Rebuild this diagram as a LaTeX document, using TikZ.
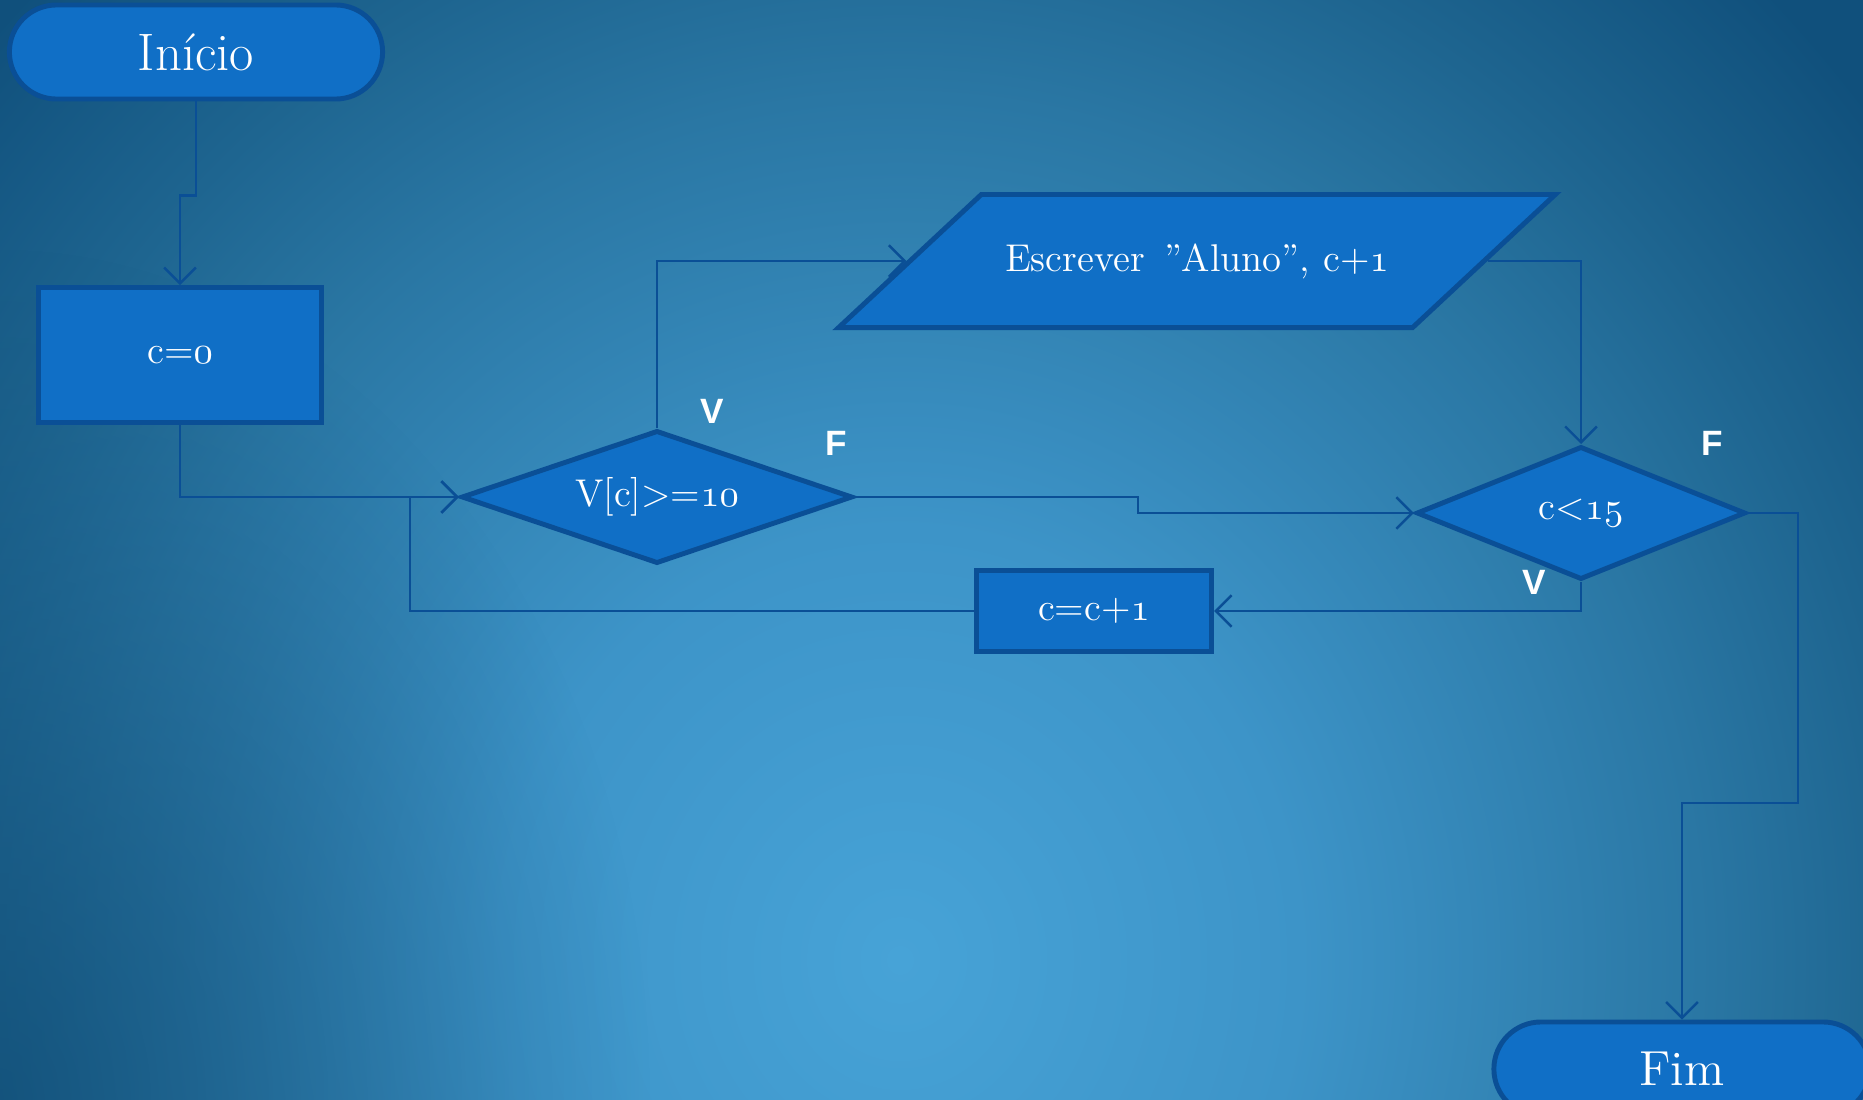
\documentclass[tikz,border=0pt]{standalone}
\usepackage{fontspec}
\newfontfamily\lblfont{Liberation Sans}
\usetikzlibrary{shapes.geometric,arrows.meta,calc,fadings}
\definecolor{nodefill}{HTML}{106FC6}
\definecolor{nodeline}{HTML}{0A4F96}
\definecolor{bgdark}{HTML}{10507C}
\definecolor{bgdeep}{HTML}{0C466E}
\definecolor{bgmiddark}{HTML}{1E6590}
\definecolor{bgmid}{HTML}{2A77A4}
\definecolor{bgmidlight}{HTML}{3D94C8}
\definecolor{bglight}{HTML}{47A3D7}
\pgfdeclareradialshading{bgshade}{\pgfpoint{0bp}{0bp}}{color(0bp)=(bglight); color(8bp)=(bgmidlight); color(16bp)=(bgmid); color(20bp)=(bgmiddark); color(25bp)=(bgdark); color(50bp)=(bgdark)}
\tikzfading[name=cornerfade, inner color=transparent!35, outer color=transparent!100]
\begin{document}
\begin{tikzpicture}[x=0.01cm,y=-0.01cm,
  box/.style={draw=nodeline,fill=nodefill,line width=1.4pt,text=white,inner sep=0pt},
  term/.style={box,rectangle,rounded corners=0.47cm,minimum width=3.73cm,minimum height=0.94cm,font=\fontsize{15}{18}\selectfont},
  proc/.style={box,rectangle,font=\fontsize{11}{13}\selectfont},
  dec/.style={box,diamond,font=\fontsize{11}{13}\selectfont},
  io/.style={box,trapezium,trapezium left angle=43,trapezium right angle=137,text width=4.31cm,align=center,text height=0.77cm,text depth=0.56cm,font=\fontsize{11}{13}\selectfont},
  conn/.style={draw=nodeline,line width=0.7pt},
  arr/.style={conn,-{Straight Barb[length=4.5pt,width=9pt]}},
  lbl/.style={text=white,font=\lblfont\bfseries\fontsize{10}{12}\selectfont}
]
\useasboundingbox (0,0) rectangle (1863,1100);
\begin{scope}
\clip (0,0) rectangle (1863,1100);
\fill[bgdark] (0,0) rectangle (1863,1100);
\shade[shading=bgshade] (900,960) ellipse (1250 and 1350);
\fill[bgdeep,path fading=cornerfade] (0,1100) ellipse (650 and 850);
\end{scope}

\node[term] (inicio) at (196,52) {Início};
\node[proc,minimum width=2.82cm,minimum height=1.35cm] (c0) at (180,355) {c=\(\mathnormal{0}\)};
\node[dec,shape aspect=2.9,minimum width=3.91cm,minimum height=1.33cm] (d1) at (657,497) {V[c]>=\(\mathnormal{10}\)};
\node[io] (para) at (1197,261) {Escrever\enspace ”Aluno”, c+\(\mathnormal{1}\)};
\node[dec,shape aspect=2.5,minimum width=3.29cm,minimum height=1.33cm] (d2) at (1581,513) {c<\(\mathnormal{15}\)};
\node[proc,minimum width=2.35cm,minimum height=0.81cm] (inc) at (1094,611) {c=c+\(\mathnormal{1}\)};
\node[term,minimum width=3.76cm,font=\fontsize{14}{17}\selectfont] (fim) at (1682,1069) {Fim};

\node[lbl] (v1) at (712,411) {V};
\node[lbl] (f1) at (836,443) {F};
\node[lbl] (f2) at (1712,443) {F};
\node[lbl] (v2) at (1534,582) {V};

\draw[arr] (inicio.south) -- ++(0,94) -| (c0.north);
\draw[arr] (c0.south) |- (d1.west);
\draw[arr] (d1.north) |- (para.left side);
\draw[arr] (para.right side) -| (d2.north);
\draw[arr] (d1.east) -- ++(283,0) |- (d2.west);
\draw[arr] (d2.south) |- (inc.east);
\draw[arr] (inc.west) -- ++(-564,0) |- (d1.west);
\draw[arr] (d2.east) -- ++(50,0) -- ++(0,290) -| (fim.north);
\end{tikzpicture}
\end{document}
